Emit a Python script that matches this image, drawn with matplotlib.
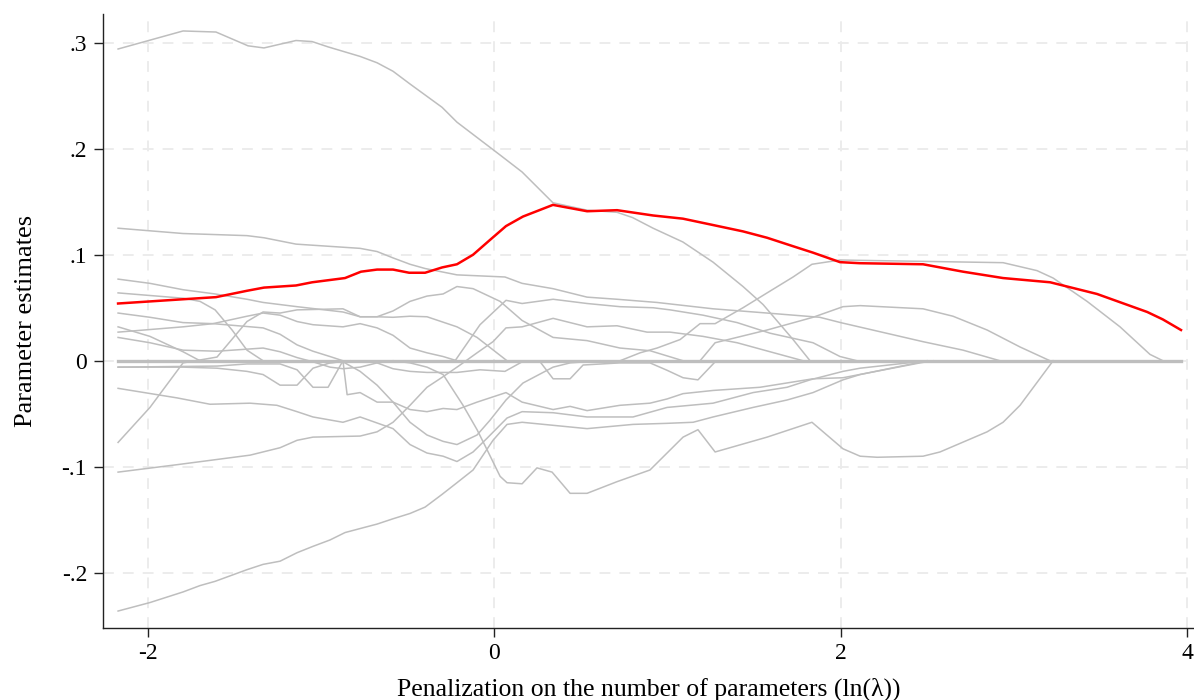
import matplotlib
matplotlib.use('Agg')
import matplotlib.pyplot as plt

# coefficient paths, x = ln(lambda), y = estimate
red_x = [-2.17,-1.795,-1.605,-1.426,-1.328,-1.143,-1.05,-0.86,-0.768,-0.675,-0.583,-0.49,-0.398,-0.30,-0.214,-0.121,-0.023,0.069,0.167,0.34,0.537,0.71,0.918,1.09,1.264,1.437,1.576,1.726,1.84,1.997,2.11,2.476,2.707,2.938,3.21,3.48,3.77,3.86,3.965]
red_y = [.054,.058,.060,.066,.069,.071,.074,.078,.084,.086,.086,.083,.083,.088,.091,.100,.114,.127,.136,.147,.141,.142,.137,.134,.128,.122,.116,.108,.102,.093,.092,.091,.084,.078,.074,.063,.046,.039,.029]

a_x = [-2.17,-1.795,-1.605,-1.42,-1.328,-1.143,-1.05,-0.958,-0.773,-0.675,-0.583,-0.485,-0.30,-0.214,0.035,0.162,0.34,0.537,0.71,0.80,0.918,1.09,1.264,1.437,1.553,1.726,1.824]
a_y = [.294,.311,.310,.297,.295,.302,.301,.296,.287,.281,.273,.261,.239,.225,.194,.178,.149,.142,.140,.135,.125,.112,.093,.070,.053,.020,0]

b_x = [-2.17,-1.795,-1.426,-1.328,-1.143,-0.773,-0.675,-0.583,-0.485,-0.398,-0.214,0.063,0.162,0.34,0.537,0.71,0.94,1.264,1.576,1.88,2.0,2.476,2.707,2.92]
b_y = [.125,.120,.118,.116,.110,.106,.103,.097,.091,.087,.081,.079,.073,.068,.060,.058,.055,.049,.045,.041,.036,.018,.010,0]

c_x = [0.727,0.843,0.941,1.074,1.189,1.276,1.437,1.576,1.726,1.835,1.997,2.938,3.134,3.227,3.423,3.613,3.786,3.861]
c_y = [0,.0075,.012,.020,.035,.035,.050,.064,.079,.091,.095,.0925,.085,.078,.056,.032,.006,0]

d_x = [-2.17,-1.986,-1.795,-1.61,-1.426,-1.333,-1.137,-0.872,-0.773,-0.675,-0.583,-0.485,-0.387,-0.214,-0.098,0.075]
d_y = [.077,.073,.067,.063,.058,.055,.051,.046,.0415,.0415,.041,.042,.0415,.032,.022,0]

e_x = [-2.17,-1.795,-1.697,-1.61,-1.512,-1.426,-1.333]
e_y = [.064,.059,.056,.048,.029,.010,0]

f_x = [-2.17,-1.986,-1.795,-1.622,-1.333,-1.235,-1.137,-1.045,-0.947,-0.872]
f_y = [.045,.041,.036,.035,.031,.025,.015,.009,.004,0]

g_x = [-2.17,-1.986,-1.795,-1.697]
g_y = [.032,.023,.0085,0]

h_x = [-2.17,-1.795,-1.622,-1.426,-1.333,-1.235,-1.137,-1.045,-0.872,-0.773,-0.675,-0.583,-0.485,-0.387,-0.294,-0.214]
h_y = [.027,.032,.035,.042,.045,.043,.037,.034,.032,.035,.031,.024,.012,.0075,.004,0]

i_x = [-2.17,-1.986,-1.795,-1.599,-1.333,-1.235,-1.137,-1.045,-0.947,-0.872,-0.773,-0.675,-0.583]
i_y = [.022,.017,.010,.009,.012,.0085,.003,-.001,-.006,-.0075,-.006,-.002,0]

j_x = [-2.17,-1.795,-1.599,-1.426,-1.333,-1.235,-1.137,-1.045,-0.947,-0.831]
j_y = [-.006,-.006,-.007,-.010,-.013,-.023,-.023,-.007,-.002,0]

q_x = [-2.17,-1.599,-1.426,-1.235,-1.137,-1.045,-0.958,-0.872,-0.848,-0.773,-0.675,-0.583,-0.485,-0.387,-0.294,-0.214,-0.098,0.069,0.162,0.341,0.439,0.537,0.727,0.900,0.999,1.091,1.264,1.535,1.841,2.014,2.459,2.534]
q_y = [-.006,-.005,-.003,-.003,-.0085,-.025,-.025,0,-.032,-.030,-.039,-.039,-.046,-.048,-.045,-.046,-.039,-.030,-.039,-.046,-.043,-.047,-.042,-.040,-.036,-.031,-.028,-.025,-.017,-.016,-.002,0]

k_x = [-2.17,-1.830,-1.639,-1.408,-1.253,-1.137,-1.045,-0.872,-0.773,-0.583,-0.485,-0.387,-0.294,-0.214,-0.121,-0.040,0.075,0.162,0.341,0.537,0.802,0.999,1.264,1.495,1.691,1.824,2.014,2.113,2.499]
k_y = [-.026,-.035,-.041,-.040,-.042,-.048,-.053,-.058,-.053,-.064,-.079,-.087,-.090,-.095,-.086,-.073,-.054,-.048,-.049,-.053,-.053,-.044,-.040,-.030,-.025,-.018,-.010,-.007,0]

l_x = [-2.17,-1.986,-1.795,-1.599,-1.426,-1.333,-1.235,-1.137,-0.872,-0.773,-0.675,-0.583,-0.485,-0.387,-0.294,-0.214,-0.121,0.035,0.162,0.341,0.537,0.727,0.900,1.091,1.189,1.276,1.576,1.841,2.014,2.113,2.476,2.649,2.846,3.036,3.209]
l_y = [-.077,-.044,-.002,.0035,.037,.046,.045,.048,.049,.0415,.0415,.047,.056,.061,.063,.070,.068,.056,.038,.022,.019,.012,.0095,0,0,.017,.029,.041,.051,.052,.049,.042,.029,.013,0]

m_x = [-2.17,-1.830,-1.408,-1.235,-1.137,-1.045,-0.773,-0.675,-0.583,-0.485,-0.387,-0.294,-0.196,-0.098,-0.006,0.069,0.162,0.341,0.537,0.710,0.883,1.016,1.206,1.403,1.593,1.784]
m_y = [-.105,-.098,-.089,-.082,-.075,-.072,-.071,-.067,-.058,-.042,-.025,-.015,-.004,.0075,.018,.031,.032,.040,.032,.033,.027,.027,.023,.017,.0085,0]

n_x = [-2.17,-1.986,-1.795,-1.697,-1.610,-1.426,-1.333,-1.235,-1.137,-1.045,-0.947,-0.860,-0.768,-0.675,-0.583,-0.485,-0.398,-0.300,-0.214,-0.121,-0.006,0.075,0.162,0.537,0.802,0.999,1.149,1.264,1.495,1.691,1.841,2.014,2.113,2.499]
n_y = [-.236,-.228,-.218,-.212,-.208,-.197,-.192,-.189,-.181,-.175,-.169,-.162,-.158,-.154,-.149,-.144,-.138,-.126,-.115,-.103,-.075,-.060,-.058,-.064,-.060,-.059,-.058,-.053,-.044,-.037,-.030,-.018,-.013,0]

p_x = [-0.583,-0.485,-0.387,-0.294,-0.179,-0.098,-0.040,0.035,0.075,0.162,0.248,0.335,0.439,0.537,0.710,0.900,1.091,1.177,1.276,1.576,1.835,2.014,2.113,2.211,2.476,2.574,2.846,2.938,3.036,3.227]
p_y = [0,-.002,-.006,-.013,-.042,-.065,-.084,-.109,-.115,-.116,-.101,-.105,-.125,-.125,-.114,-.103,-.072,-.065,-.086,-.072,-.058,-.083,-.090,-.091,-.090,-.086,-.067,-.058,-.042,0]

s_x = [-0.225,-0.081,0.069,0.162,0.341,0.537,0.727,0.918,1.016,1.206,1.403,1.593,1.841,1.997,2.095]
s_y = [0,.034,.057,.054,.058,.054,.051,.050,.048,.043,.036,.026,.017,.004,0]

v_x = [-0.964,-0.872,-0.773,-0.675,-0.583,-0.485,-0.387,-0.294,-0.214,-0.098,-0.023,0.069,0.167,0.341,0.439,0.612]
v_y = [-.002,-.001,-.010,-.023,-.039,-.058,-.070,-.076,-.079,-.070,-.056,-.037,-.021,-.006,-.002,0]

u_x = [-0.675,-0.583,-0.485,-0.387,-0.214,-0.081,0.063,0.162,0.266,0.341,0.439,0.514,0.727,0.900,0.999,1.091,1.177,1.276]
u_y = [-.002,-.0075,-.010,-.011,-.011,-.0085,-.010,-.001,-.001,-.017,-.017,-.004,-.002,-.002,-.009,-.016,-.018,-.001]

grey_paths = [(a_x, a_y), (b_x, b_y), (c_x, c_y), (d_x, d_y), (e_x, e_y), (f_x, f_y),
              (g_x, g_y), (h_x, h_y), (i_x, i_y), (j_x, j_y), (q_x, q_y), (k_x, k_y),
              (l_x, l_y), (m_x, m_y), (n_x, n_y), (p_x, p_y), (s_x, s_y), (v_x, v_y),
              (u_x, u_y)]

x_ticks = [-2, 0, 2, 4]
y_ticks = [-0.2, -0.1, 0, 0.1, 0.2, 0.3]
y_labels = ['-.2', '-.1', '0', '.1', '.2', '.3']

plt.rcParams['font.family'] = ['Liberation Serif', 'DejaVu Serif']
plt.rcParams['axes.unicode_minus'] = False

fig = plt.figure(figsize=(11.94, 7.0), dpi=100)
ax = fig.add_axes([103/1194, 72/700, 1 - 103/1194, 614/700])

grey = '#bebebe'
# coefficients sitting at zero
ax.plot([red_x[0], red_x[-1]], [0, 0], color=grey, lw=2.4, zorder=2)
for xs, ys in grey_paths:
    ax.plot(xs, ys, color=grey, lw=1.1, zorder=2)
ax.plot(red_x, red_y, color='#ff0000', lw=1.8, zorder=3)

ax.set_xlim(-2.257, 4.04)
ax.set_ylim(-0.252, 0.327)
ax.set_xticks(x_ticks)
ax.set_xticklabels([str(t) for t in x_ticks])
ax.set_yticks(y_ticks)
ax.set_yticklabels(y_labels)
ax.grid(True, color='#ebebeb', lw=1.3, linestyle=(0, (6, 5)), zorder=0)
ax.set_axisbelow(True)

for sp in ['top', 'right']:
    ax.spines[sp].set_visible(False)
for sp in ['left', 'bottom']:
    ax.spines[sp].set_color('#222222')
    ax.spines[sp].set_linewidth(1.0)
ax.tick_params(axis='both', length=6.5, width=1.0, color='#222222', labelsize=17)
ax.tick_params(axis='y', pad=5)
ax.tick_params(axis='x', pad=4)

ax.set_xlabel('Penalization on the number of parameters (ln(λ))', fontsize=18.5, labelpad=10)
ax.set_ylabel('Parameter estimates', fontsize=19, labelpad=18)

fig.savefig('out.png', dpi=100)
